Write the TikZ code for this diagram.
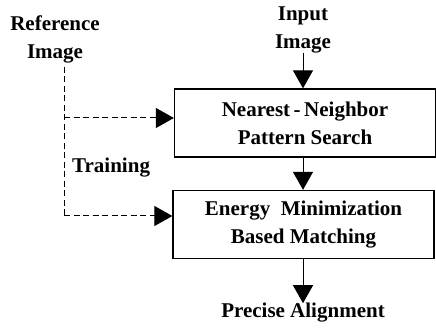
\documentclass[tikz,border=0pt]{standalone}
\usepackage{fontspec}
\setmainfont{Liberation Serif}
\usepackage{tikz}
\usetikzlibrary{arrows.meta,positioning,calc}
\definecolor{ink}{HTML}{000000}

\begin{document}
\begin{tikzpicture}[
  x=1pt,y=-1pt,
  font=\fontsize{21}{28}\selectfont\bfseries,
  box/.style={draw=ink,line width=1.3pt,minimum width=261pt,minimum height=68pt,align=center,inner sep=2pt},
  lbl/.style={align=center,inner sep=0pt,text=ink},
  arr/.style={-{Triangle[length=18pt,width=20pt]},line width=1pt,draw=ink},
  dasharr/.style={arr,dash pattern=on 6pt off 3.5pt}
]
\useasboundingbox (0,0) rectangle (436,328);

% Main matching path
\node[lbl] (inp) at (303,30) {Input\\Image};
\node[box] (nn) at (305,123) {Nearest\,-\,Neighbor\\Pattern Search};
\node[box] (em) at (303.5,224.5) {Energy\ \ Minimization\\Based Matching};
\node[lbl] (out) at (303,313) {Precise Alignment};
\draw[arr] (inp) -- (inp |- nn.north);
\draw[arr] (nn.south -| inp) -- (inp |- em.north);
\draw[arr] (em.south -| inp) -- (out);

% Reference image used for training
\node[lbl] (ref) at (55,39) {Reference\\Image};
\node[lbl,anchor=west] (train) at (72,168) {Training};
\coordinate (r0) at (64,67);
\coordinate (b1) at (64,118);
\coordinate (b2) at (64,216);
\draw[dash pattern=on 6pt off 3.5pt,line width=1pt,draw=ink] (r0) -- (b2);
\draw[dasharr] (b1) -- (nn.west |- b1);
\draw[dasharr] (b2) -- (em.west |- b2);
\end{tikzpicture}
\end{document}
